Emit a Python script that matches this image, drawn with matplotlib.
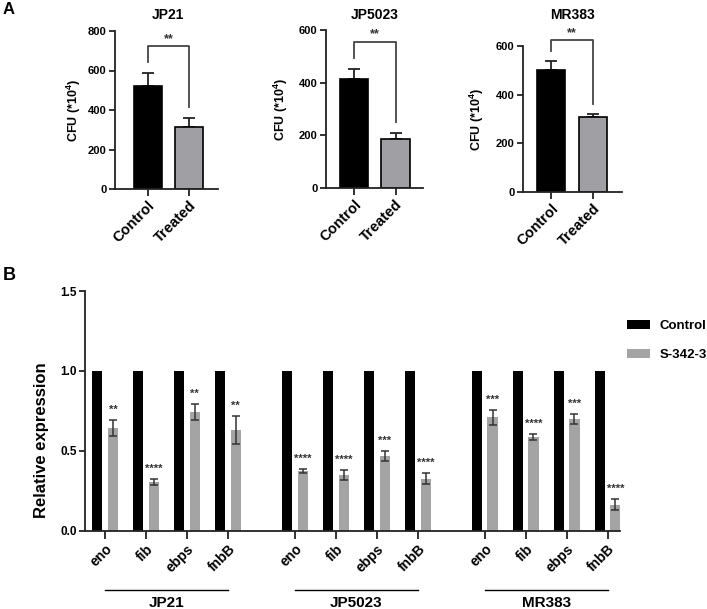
import matplotlib
matplotlib.use("Agg")
import matplotlib.pyplot as plt
import matplotlib.transforms as mtransforms
from matplotlib.patches import Patch
import numpy as np

plt.rcParams['font.family'] = ['Liberation Sans', 'DejaVu Sans']
plt.rcParams['font.weight'] = 'bold'
plt.rcParams['axes.labelweight'] = 'bold'
plt.rcParams['mathtext.fontset'] = 'custom'
plt.rcParams['mathtext.rm'] = 'Liberation Sans:bold'
plt.rcParams['mathtext.bf'] = 'Liberation Sans:bold'

W, H = 707, 609

# ---- panel A data (CFU *10^4) ----
strains = ["JP21", "JP5023", "MR383"]
conditions = ["Control", "Treated"]
jp21_cfu = [522, 315]
jp21_err = [67, 45]
jp5023_cfu = [414, 186]
jp5023_err = [38, 22]
mr383_cfu = [503, 308]
mr383_err = [35, 12]
cfu_ymax = [800, 600, 600]
sig_a = ["**", "**", "**"]
bracket_top = [723, 556, 623]

# ---- panel B data (relative expression) ----
genes = ["eno", "fib", "ebps", "fnbB"]
control_expr = [1.0, 1.0, 1.0, 1.0, 1.0, 1.0, 1.0, 1.0, 1.0, 1.0, 1.0, 1.0]
treated_expr = [0.643, 0.303, 0.743, 0.63, 0.374, 0.349, 0.468, 0.326, 0.71, 0.587, 0.70, 0.163]
treated_sd = [0.052, 0.019, 0.052, 0.09, 0.012, 0.033, 0.03, 0.034, 0.048, 0.017, 0.033, 0.034]
sig_b = ["**", "****", "**", "**", "****", "****", "***", "****", "***", "****", "***", "****"]

GRAY_A = '#A0A0A4'
GRAY_B = '#A4A4A4'
AXC = '#222222'

fig = plt.figure(figsize=(W / 100, H / 100), dpi=100)


def px_axes(l, t, r, b):
    return fig.add_axes([l / W, 1 - b / H, (r - l) / W, (b - t) / H])


def style_axes(ax):
    for s in ['top', 'right']:
        ax.spines[s].set_visible(False)
    for s in ['left', 'bottom']:
        ax.spines[s].set_linewidth(1.3)
        ax.spines[s].set_color(AXC)
    ax.tick_params(axis='both', direction='out', width=1.3, color=AXC)


# ---- panel A ----
boxes_a = [(115, 31, 218, 189), (326, 30, 423, 188), (523, 46, 622, 192)]
xlims_a = [(-0.8, 1.71), (-0.67, 1.66), (-0.67, 1.69)]
ylab_x = [-0.31, -0.37, -0.37]
means_a = [jp21_cfu, jp5023_cfu, mr383_cfu]
errs_a = [jp21_err, jp5023_err, mr383_err]

for k in range(3):
    ax = px_axes(*boxes_a[k])
    style_axes(ax)
    m, e, ymax = means_a[k], errs_a[k], cfu_ymax[k]
    ax.bar([0, 1], m, width=0.68, color=['black', GRAY_A], edgecolor='black', linewidth=1.2, zorder=2)
    ax.errorbar([0, 1], m, yerr=[[0, 0], e], fmt='none', ecolor=AXC, elinewidth=1.3,
                capsize=4, capthick=1.3, zorder=1)
    gap = 0.07 * ymax
    ax.plot([0, 0, 1, 1], [m[0] + e[0] + gap, bracket_top[k], bracket_top[k], m[1] + e[1] + gap],
            color='#444444', lw=1.3, clip_on=False)
    ax.annotate(sig_a[k], xy=(0.5, bracket_top[k]), xytext=(0, 3), textcoords='offset points',
                ha='center', va='baseline', fontsize=9, color='#333333', annotation_clip=False)
    ax.annotate(strains[k], xy=(0.5, H - 15), xycoords=('data', 'figure pixels'),
                ha='center', va='center', fontsize=10, fontweight='bold', annotation_clip=False)
    ax.set_xlim(*xlims_a[k])
    ax.set_ylim(0, ymax)
    ax.set_yticks(np.arange(0, ymax + 1, 200))
    ax.set_xticks([0, 1])
    ax.set_xticklabels(conditions, rotation=45, ha='right', rotation_mode='anchor', fontsize=10.5)
    ax.tick_params(axis='y', length=4, labelsize=8, pad=2)
    ax.tick_params(axis='x', length=5, pad=2)
    ax.set_ylabel(r'CFU (*10$^{\mathbf{4}}$)', fontsize=9)
    ax.yaxis.set_label_coords(ylab_x[k], 0.5)

# ---- panel B ----
axb = px_axes(85, 291, 620, 530.7)
style_axes(axb)
pos = np.arange(12) + np.repeat(np.arange(3), 4) * 0.63
axb.bar(pos - 0.19, control_expr, 0.25, color='black', zorder=2)
axb.bar(pos + 0.19, treated_expr, 0.25, color=GRAY_B, zorder=2)
axb.errorbar(pos + 0.19, treated_expr, yerr=treated_sd, fmt='none', ecolor='#333333',
             elinewidth=1.1, capsize=2.8, capthick=1.1, zorder=3)
for p, t, sd, s in zip(pos, treated_expr, treated_sd, sig_b):
    axb.annotate(s, xy=(p + 0.19, t + sd), xytext=(0, 5), textcoords='offset points',
                 ha='center', va='baseline', fontsize=8, color='#333333')

axb.set_xlim(-0.49, 12.56)
axb.set_ylim(0, 1.5)
axb.set_yticks([0, 0.5, 1.0, 1.5])
axb.set_yticklabels(['0.0', '0.5', '1.0', '1.5'])
axb.set_xticks(pos)
axb.set_xticklabels(genes * 3, rotation=45, ha='right', rotation_mode='anchor', fontsize=10)
axb.tick_params(axis='y', length=4, labelsize=8.5, pad=2)
axb.tick_params(axis='x', length=6, pad=2)

trans = mtransforms.blended_transform_factory(axb.transData, axb.transAxes)
for g in range(3):
    x0, x1 = pos[4 * g], pos[4 * g + 3]
    axb.plot([x0, x1], [-0.247, -0.247], transform=trans, clip_on=False, color='black', lw=1)
    axb.text((x0 + x1) / 2, -0.30, strains[g], transform=trans, ha='center', va='center',
             fontsize=11, fontweight='bold')

handles = [Patch(facecolor='black', label='Control'), Patch(facecolor=GRAY_B, label='S-342-3')]
axb.legend(handles=handles, loc='upper left', bbox_to_anchor=(626.7 / W, 1 - 320 / H),
           bbox_transform=fig.transFigure, frameon=False, prop={'weight': 'bold', 'size': 9.5},
           handlelength=1.8, handleheight=0.7, labelspacing=1.25, handletextpad=0.7,
           borderpad=0, borderaxespad=0)

fig.text(42 / W, 1 - 440 / H, 'Relative expression', rotation=90, ha='center', va='center',
         fontsize=12, fontweight='bold')
fig.text(3 / W, 1 - 9 / H, 'A', fontsize=12, fontweight='bold', va='center')
fig.text(3 / W, 1 - 275 / H, 'B', fontsize=13, fontweight='bold', va='center')

fig.savefig('out.png', dpi=100)
